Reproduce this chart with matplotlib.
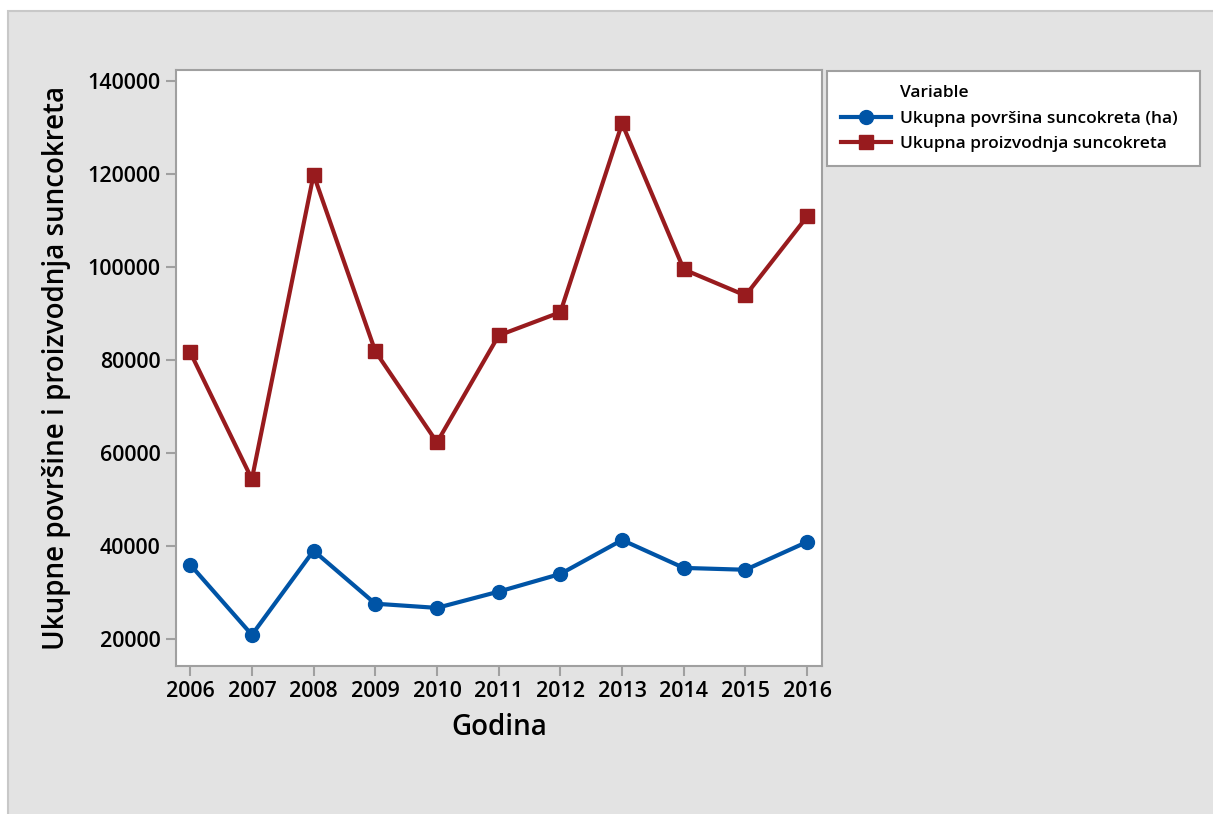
import matplotlib.pyplot as plt
from matplotlib.patches import Rectangle
from matplotlib.lines import Line2D

godina = [2006, 2007, 2008, 2009, 2010, 2011, 2012, 2013, 2014, 2015, 2016]
povrsina = [35900, 20800, 38900, 27500, 26600, 30100, 33900, 41200, 35200, 34800, 40800]
proizvodnja = [81600, 54300, 119800, 81800, 62200, 85200, 90200, 130800, 99400, 93800, 110800]
y_ticks = [20000, 40000, 60000, 80000, 100000, 120000, 140000]

plave = '#0054A6'
crvena = '#981B1E'
siva = '#A0A0A0'

plt.rcParams['font.family'] = ['Open Sans', 'DejaVu Sans']

fig = plt.figure(figsize=(12.13, 8.14), dpi=100)
fig.patch.set_facecolor('white')
pozadina = Rectangle((8 / 1213, -0.01), 1.01 - 8 / 1213, 1.01 - 11 / 814, transform=fig.transFigure,
                     facecolor='#E3E3E3', edgecolor='#C8C8C8', linewidth=1.5, zorder=-10)
fig.add_artist(pozadina)

ax = fig.add_axes([176 / 1213, 1 - 666 / 814, (822 - 176) / 1213, (666 - 70) / 814])
ax.set_zorder(1)
ax.set_facecolor('white')

ax.plot(godina, povrsina, color=plave, linewidth=3, marker='o', markersize=10,
        label='Ukupna površina suncokreta (ha)', clip_on=False, zorder=3)
ax.plot(godina, proizvodnja, color=crvena, linewidth=3, marker='s', markersize=10,
        label='Ukupna proizvodnja suncokreta', clip_on=False, zorder=3)

ax.set_xlim(2005.77, 2016.24)
ax.set_ylim(14100, 142300)
ax.set_xticks(godina)
ax.set_yticks(y_ticks)
ax.set_yticklabels([str(v) for v in y_ticks])

for s in ax.spines.values():
    s.set_color(siva)
    s.set_linewidth(1.5)
ax.tick_params(axis='both', direction='out', length=7, width=1.5, color=siva,
               labelsize=15.5, pad=4)
for lab in ax.get_xticklabels() + ax.get_yticklabels():
    lab.set_fontweight('semibold')

ax.set_xlabel('Godina', fontsize=20, fontweight='semibold', labelpad=8)
ax.set_ylabel('Ukupne površine i proizvodnja suncokreta', fontsize=20, fontweight='semibold', labelpad=12)

handles = [Line2D([], [], color='none', label='Variable')] + ax.get_lines()
leg = fig.legend(handles=handles, loc='upper left', mode='expand',
                 bbox_to_anchor=(827 / 1213, 1 - 163 / 814, 373 / 1213, 92 / 814),
                 borderaxespad=0, fontsize=12.5, frameon=True, fancybox=False, framealpha=1,
                 facecolor='white', handlelength=2.9, borderpad=0.8, labelspacing=0.55,
                 handletextpad=0.5)
leg.set_zorder(2)
leg.get_frame().set_edgecolor(siva)
leg.get_frame().set_linewidth(1.5)
for t in leg.get_texts():
    t.set_fontweight('semibold')

fig.savefig('out.png', dpi=100)
